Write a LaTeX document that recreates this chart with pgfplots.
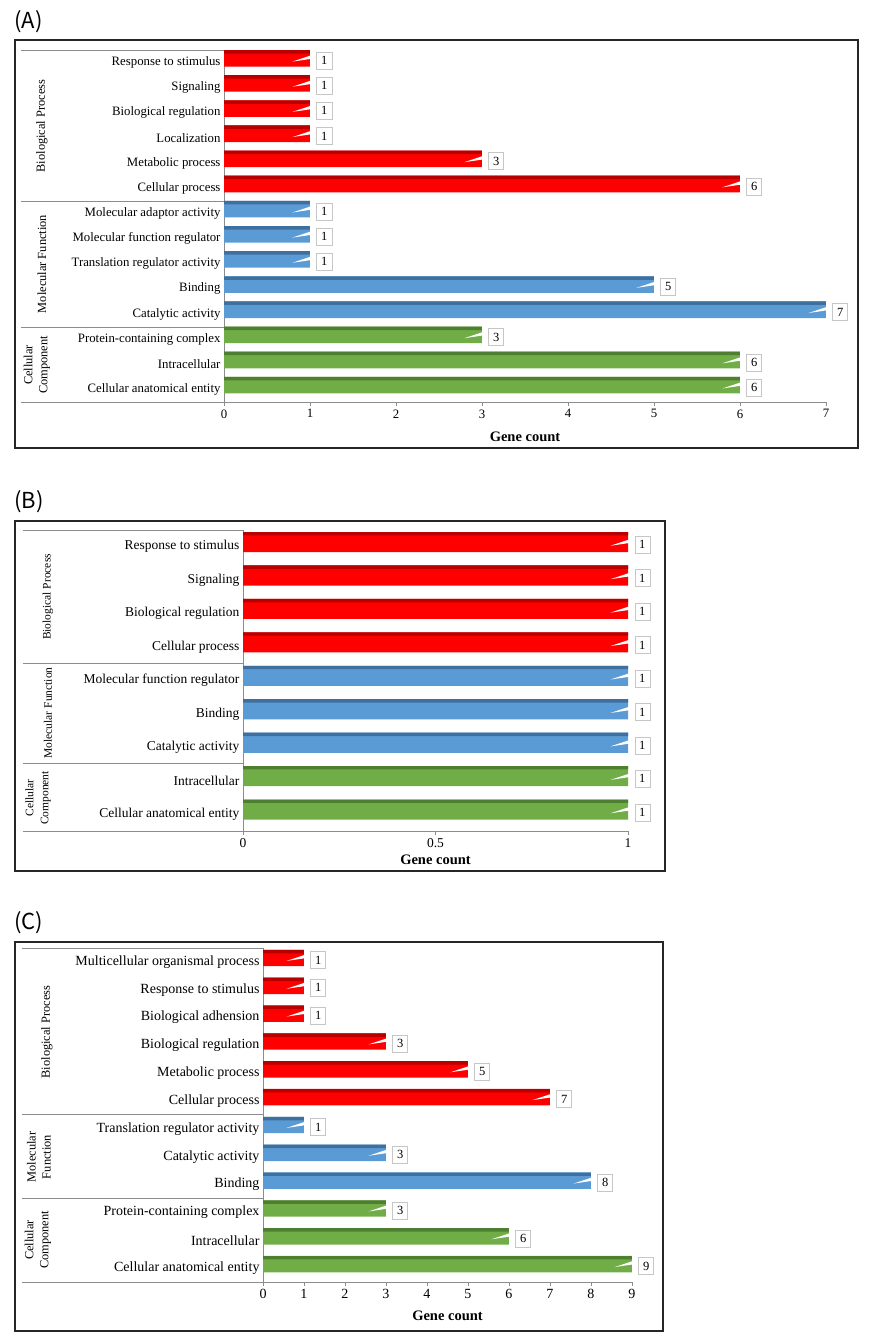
\documentclass[border=0pt]{standalone}
\usepackage{pgfplots}
\pgfplotsset{compat=1.18}
\usepackage{pgfplotstable}
\usepackage{fontspec}
\setmainfont{Liberation Serif}
\newfontfamily\panelfont{Noto Sans CJK KR}
\definecolor{bpM}{HTML}{FF0000}
\definecolor{bpD}{HTML}{B80000}
\definecolor{mfM}{HTML}{5B9BD5}
\definecolor{mfD}{HTML}{3F6F9E}
\definecolor{ccM}{HTML}{70AD47}
\definecolor{ccD}{HTML}{4E7F30}
\definecolor{axc}{HTML}{8C8C8C}

% Panel A
\pgfplotstableread{
y x
13 1
12 1
11 1
10 1
9 3
8 6
}\tAbp
\pgfplotstableread{
y x
7 1
6 1
5 1
4 5
3 7
}\tAmf
\pgfplotstableread{
y x
2 3
1 6
0 6
}\tAcc
% Panel B
\pgfplotstableread{
y x
8 1
7 1
6 1
5 1
}\tBbp
\pgfplotstableread{
y x
4 1
3 1
2 1
}\tBmf
\pgfplotstableread{
y x
1 1
0 1
}\tBcc
% Panel C
\pgfplotstableread{
y x
11 1
10 1
9 1
8 3
7 5
6 7
}\tCbp
\pgfplotstableread{
y x
5 1
4 3
3 8
}\tCmf
\pgfplotstableread{
y x
2 3
1 6
0 9
}\tCcc

\pgfplotsset{
  goax/.style={scale only axis, axis lines*=left, clip=false,
    axis line style={draw=axc, line width=0.9pt},
    ytick style={draw=none}, xtick align=outside, major tick length=4pt,
    xtick style={draw=axc, line width=0.8pt},
    /pgf/number format/assume math mode=true,
    xmin=0, enlarge x limits=false,
    xlabel={Gene count},
    xlabel style={at={(axis description cs:0.5,0)}, anchor=center, font=\bfseries\fontsize{14.5}{15}\selectfont},
  },
  valn/.style={draw=none, mark=none, nodes near coords, point meta=x,
    every node near coord/.append style={anchor=west, xshift=6.5pt, yshift=2pt, fill=white,
      draw=gray!45, line width=0.5pt, inner sep=2pt, minimum height=17pt, minimum width=15pt,
      font=\fontsize{12.5}{12}\selectfont,
      append after command={\pgfextra{\fill[white] ([yshift=7pt]\tikzlastnode.west) -- ([xshift=-24pt,yshift=-1pt]\tikzlastnode.west) -- ([yshift=2.5pt]\tikzlastnode.west) -- cycle;}}}},
}
% #1 table, #2 main colour, #3 dark colour
\newcommand{\grp}[3]{%
  \addplot[xbar, bar width=\bw, bar shift=\bs, fill=#2, draw=none] table[x=x,y=y]{#1};
  \addplot[xbar, bar width=\sw, bar shift=\ss, fill=#3, draw=none] table[x=x,y=y]{#1};
  \addplot[valn] table[x=x,y=y]{#1};
}

\begin{document}
\begin{tikzpicture}[x=1pt,y=-1pt]
\path (0,0) rectangle (869,1339);
\coordinate (OA) at (224,402);
\coordinate (OB) at (243,831);
\coordinate (OC) at (263,1282);

% ---------------- Panel A
\def\bw{0.66}\def\bs{0.17}\def\sw{0.14}\def\ss{0.43}
\begin{axis}[goax, at={(OA)}, anchor=south west, width=602pt, height=352pt,
  xmax=7, xtick={0,...,7}, ymin=-0.5, ymax=13.5, ytick={0,...,13},
  ticklabel style={font=\fontsize{12.8}{14}\selectfont},
  xlabel style={yshift=-35pt},
  yticklabels={Cellular anatomical entity, Intracellular, Protein-containing complex, Catalytic activity, Binding, Translation regulator activity, Molecular function regulator, Molecular adaptor activity, Cellular process, Metabolic process, Localization, Biological regulation, Signaling, Response to stimulus}]
\grp{\tAbp}{bpM}{bpD}
\grp{\tAmf}{mfM}{mfD}
\grp{\tAcc}{ccM}{ccD}
\end{axis}

% ---------------- Panel B
\def\bw{0.6}\def\bs{0.14}\def\sw{0.1}\def\ss{0.39}
\begin{axis}[goax, at={(OB)}, anchor=south west, width=385pt, height=301pt,
  xmax=1, xtick={0,0.5,1}, ymin=-0.5, ymax=8.5, ytick={0,...,8},
  ticklabel style={font=\fontsize{13.5}{14}\selectfont},
  xlabel style={yshift=-29pt},
  yticklabels={Cellular anatomical entity, Intracellular, Catalytic activity, Binding, Molecular function regulator, Cellular process, Biological regulation, Signaling, Response to stimulus}]
\grp{\tBbp}{bpM}{bpD}
\grp{\tBmf}{mfM}{mfD}
\grp{\tBcc}{ccM}{ccD}
\end{axis}

% ---------------- Panel C
\def\bw{0.59}\def\bs{0.14}\def\sw{0.125}\def\ss{0.372}
\begin{axis}[goax, at={(OC)}, anchor=south west, width=369pt, height=334pt,
  xmax=9, xtick={0,...,9}, ymin=-0.5, ymax=11.5, ytick={0,...,11},
  ticklabel style={font=\fontsize{14}{15}\selectfont},
  xlabel style={yshift=-34pt},
  yticklabels={Cellular anatomical entity, Intracellular, Protein-containing complex, Binding, Catalytic activity, Translation regulator activity, Cellular process, Metabolic process, Biological regulation, Biological adhension, Response to stimulus, Multicellular organismal process}]
\grp{\tCbp}{bpM}{bpD}
\grp{\tCmf}{mfM}{mfD}
\grp{\tCcc}{ccM}{ccD}
\end{axis}

% separators
\begin{scope}[draw=axc, line width=0.9pt]
\draw (21,50) -- (224,50); \draw (21,201) -- (224,201); \draw (21,327) -- (224,327); \draw (21,402) -- (224,402);
\draw (23,530) -- (243,530); \draw (23,663) -- (243,663); \draw (23,763) -- (243,763); \draw (23,831) -- (243,831);
\draw (22,948) -- (263,948); \draw (22,1114) -- (263,1114); \draw (22,1198) -- (263,1198); \draw (22,1282) -- (263,1282);
\end{scope}

% group labels
\begin{scope}[font=\fontsize{12.4}{15}\selectfont, align=center]
\node[rotate=90] at (42,126) {Biological Process};
\node[rotate=90] at (42,264) {Molecular Function};
\node[rotate=90] at (37,365) {Cellular\\Component};
\node[rotate=90, font=\fontsize{11.5}{15}\selectfont] at (48,597) {Biological Process};
\node[rotate=90, font=\fontsize{11.5}{15}\selectfont] at (48,713) {Molecular Function};
\node[rotate=90, font=\fontsize{11.5}{15}\selectfont] at (38,798) {Cellular\\Component};
\node[rotate=90] at (47,1032) {Biological Process};
\node[rotate=90] at (39,1157) {Molecular\\Function};
\node[rotate=90] at (38,1240) {Cellular\\Component};
\end{scope}

% frames
\draw[line width=1.2pt, draw=black!85] (15,40) rectangle (858,448);
\draw[line width=1.2pt, draw=black!85] (15,521) rectangle (665,871);
\draw[line width=1.2pt, draw=black!85] (15,942) rectangle (663,1331);

% panel labels
\node[anchor=west, inner sep=0pt, font=\panelfont\fontsize{22}{24}\selectfont] at (14,22) {(A)};
\node[anchor=west, inner sep=0pt, font=\panelfont\fontsize{22}{24}\selectfont] at (14,502) {(B)};
\node[anchor=west, inner sep=0pt, font=\panelfont\fontsize{22}{24}\selectfont] at (14,923) {(C)};
\end{tikzpicture}
\end{document}
